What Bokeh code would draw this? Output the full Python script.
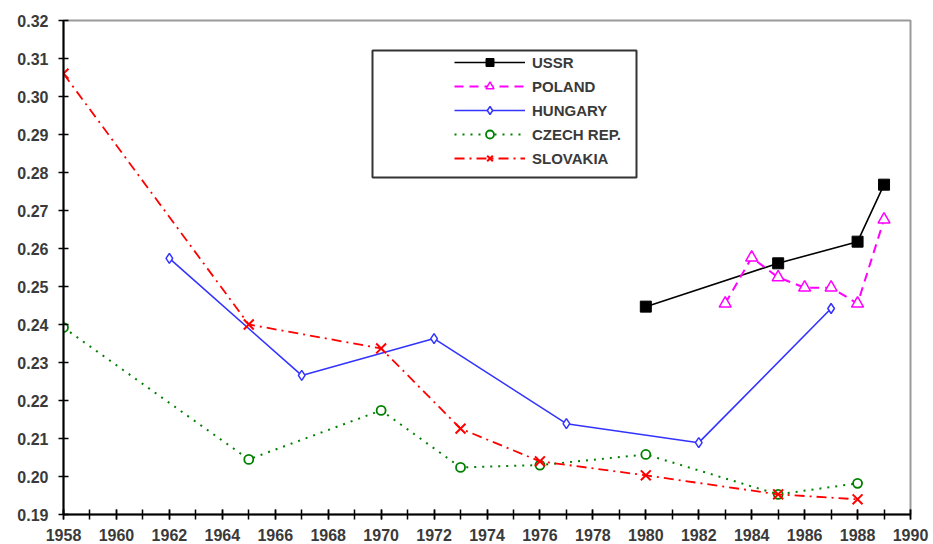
from bokeh.plotting import figure
from bokeh.models import (FixedTicker, Legend, LegendItem, BoxAnnotation,
                          Range1d, NumeralTickFormatter)
from bokeh.embed import file_html
from bokeh.resources import INLINE

# ---- data ----
ussr_years = [1980, 1985, 1988, 1989]
ussr_vals = [0.2447, 0.2561, 0.2618, 0.2768]

poland_years = [1983, 1984, 1985, 1986, 1987, 1988, 1989]
poland_vals = [0.2455, 0.2576, 0.2524, 0.2497, 0.2497, 0.2455, 0.2676]

hungary_years = [1962, 1967, 1972, 1977, 1982, 1987]
hungary_vals = [0.2574, 0.2266, 0.2363, 0.2139, 0.2089, 0.2442]

czech_years = [1958, 1965, 1970, 1973, 1976, 1980, 1985, 1988]
czech_vals = [0.2392, 0.2045, 0.2174, 0.2024, 0.2030, 0.2058, 0.1953, 0.1982]

slovakia_years = [1958, 1965, 1970, 1973, 1976, 1980, 1985, 1988]
slovakia_vals = [0.3060, 0.2400, 0.2337, 0.2126, 0.2040, 0.2003, 0.1953, 0.1940]

x_label_years = list(range(1958, 1991, 2))
x_minor_years = list(range(1958, 1991))
y_ticks = [round(0.19 + 0.01 * i, 2) for i in range(14)]

FONT = "Liberation Sans"
TXT = "#3a3a3a"

p = figure(width=933, height=544, output_backend="svg", toolbar_location=None,
           x_range=Range1d(1958, 1990), y_range=Range1d(0.19, 0.32),
           min_border_left=63, min_border_right=23, min_border_top=20,
           min_border_bottom=30)
p.frame_width = 847
p.frame_height = 494

p.xgrid.visible = False
p.ygrid.visible = False
p.outline_line_color = "#9a9a9a"
p.outline_line_width = 2
p.background_fill_color = "white"
p.border_fill_color = "white"

# axes
p.xaxis.ticker = FixedTicker(ticks=x_label_years, minor_ticks=x_minor_years)
p.yaxis.ticker = FixedTicker(ticks=y_ticks)
p.yaxis.formatter = NumeralTickFormatter(format="0.00")
for ax in (p.xaxis[0], p.yaxis[0]):
    ax.axis_line_color = "black"
    ax.axis_line_width = 2
    ax.major_tick_line_color = "black"
    ax.major_tick_line_width = 1.5
    ax.minor_tick_line_color = "black"
    ax.minor_tick_line_width = 1.5
    ax.major_tick_in = 5
    ax.major_tick_out = 5
    ax.minor_tick_in = 5
    ax.minor_tick_out = 5
    ax.major_label_text_font = FONT
    ax.major_label_text_font_size = "16px"
    ax.major_label_text_font_style = "bold"
    ax.major_label_text_color = TXT
p.yaxis.minor_tick_line_color = None
p.yaxis.major_label_standoff = 10
p.xaxis.major_label_standoff = 9

# series
r_ussr_l = p.line(ussr_years, ussr_vals, line_color="black", line_width=1.6)
r_ussr_m = p.scatter(ussr_years, ussr_vals, marker="square", size=11,
                     fill_color="black", line_color="black")

r_pol_l = p.line(poland_years, poland_vals, line_color="#ff00ff", line_width=2,
                 line_dash="9 6")
r_pol_m = p.scatter(poland_years, poland_vals, marker="triangle", size=12,
                    fill_color="white", line_color="#ff00ff", line_width=1.5)

r_hun_l = p.line(hungary_years, hungary_vals, line_color="#3333ff", line_width=1.6)
r_hun_m = p.scatter(hungary_years, hungary_vals, marker="diamond", size=10,
                    fill_color="white", line_color="#3333ff", line_width=1.5)

r_cz_l = p.line(czech_years, czech_vals, line_color="#008000", line_width=2,
                line_dash="2 6")
r_cz_m = p.scatter(czech_years, czech_vals, marker="circle", size=9,
                   fill_color="white", line_color="#008000", line_width=1.8)

r_sk_l = p.line(slovakia_years, slovakia_vals, line_color="#ff0000", line_width=1.8,
                line_dash="10 5 2 5")
r_sk_m = p.scatter(slovakia_years, slovakia_vals, marker="x", size=14,
                   line_color="#ff0000", line_width=2)

# legend box (screen units, measured from frame bottom-left)
box = BoxAnnotation(left=309, right=573, top=464, bottom=337,
                    left_units="screen", right_units="screen",
                    top_units="screen", bottom_units="screen",
                    fill_color="white", fill_alpha=1.0,
                    line_color="#333333", line_alpha=1.0, line_width=2,
                    level="overlay")
p.add_layout(box)

legend = Legend(items=[
    LegendItem(label="USSR", renderers=[r_ussr_l, r_ussr_m]),
    LegendItem(label="POLAND", renderers=[r_pol_l, r_pol_m]),
    LegendItem(label="HUNGARY", renderers=[r_hun_l, r_hun_m]),
    LegendItem(label="CZECH REP.", renderers=[r_cz_l, r_cz_m]),
    LegendItem(label="SLOVAKIA", renderers=[r_sk_l, r_sk_m]),
], location=(391, 346), orientation="vertical")
legend.border_line_color = None
legend.background_fill_alpha = 0
legend.padding = 0
legend.margin = 0
legend.spacing = 4
legend.glyph_width = 71
legend.glyph_height = 20
legend.label_height = 20
legend.label_standoff = 7
legend.label_text_font = FONT
legend.label_text_font_size = "15px"
legend.label_text_font_style = "bold"
legend.label_text_color = TXT
legend.level = "overlay"
p.add_layout(legend, "center")

open("out.html", "w").write(file_html(p, INLINE))
